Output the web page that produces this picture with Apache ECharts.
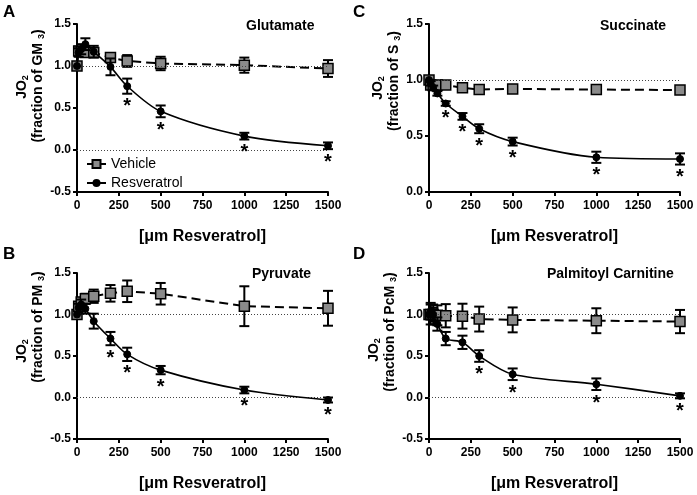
<!DOCTYPE html>
<html><head><meta charset="utf-8">
<script src="https://cdn.jsdelivr.net/npm/echarts@6/dist/echarts.min.js"></script>
<style>html,body{margin:0;padding:0;background:#fff}#c{width:697px;height:495px}</style>
</head><body><div id="c"></div>
<script>
const doses = [0, 10, 25, 50, 100, 200, 300, 500, 1000, 1500];
const xTicks = [0, 250, 500, 750, 1000, 1250, 1500];

const glutVehicle = [1.0, 1.18, 1.17, 1.16, 1.16, 1.10, 1.06, 1.03, 1.01, 0.97];
const glutVehicleErr = [0, 0.05, 0.05, 0.05, 0.05, 0.05, 0.07, 0.08, 0.09, 0.10];
const glutResv = [1.0, 1.16, 1.20, 1.26, 1.17, 0.99, 0.76, 0.46, 0.165, 0.05];
const glutResvErr = [0, 0.05, 0.06, 0.07, 0.07, 0.10, 0.09, 0.07, 0.04, 0.04];
const glutSig = [0, 0, 0, 0, 0, 0, 1, 1, 1, 1];

const succVehicle = [1.0, 0.955, 0.95, 0.955, 0.955, 0.93, 0.915, 0.92, 0.915, 0.91];
const succVehicleErr = [0, 0.02, 0.02, 0.02, 0.02, 0.02, 0.02, 0.03, 0.02, 0.02];
const succResv = [1.0, 0.97, 0.93, 0.88, 0.79, 0.675, 0.565, 0.45, 0.31, 0.295];
const succResvErr = [0, 0.02, 0.02, 0.02, 0.02, 0.03, 0.04, 0.035, 0.05, 0.05];
const succSig = [0, 0, 0, 0, 1, 1, 1, 1, 1, 1];

const pyrVehicle = [1.0, 1.10, 1.15, 1.19, 1.22, 1.255, 1.28, 1.25, 1.10, 1.075];
const pyrVehicleErr = [0, 0.05, 0.05, 0.06, 0.08, 0.10, 0.13, 0.13, 0.24, 0.21];
const pyrResv = [1.0, 1.08, 1.12, 1.07, 0.92, 0.71, 0.52, 0.33, 0.09, -0.03];
const pyrResvErr = [0, 0.05, 0.06, 0.06, 0.09, 0.08, 0.08, 0.05, 0.04, 0.03];
const pyrSig = [0, 0, 0, 0, 0, 1, 1, 1, 1, 1];

const palmVehicle = [1.0, 1.0, 1.0, 0.99, 0.985, 0.98, 0.945, 0.935, 0.925, 0.915];
const palmVehicleErr = [0, 0.12, 0.12, 0.12, 0.14, 0.15, 0.15, 0.15, 0.15, 0.14];
const palmResv = [1.0, 1.04, 1.0, 0.885, 0.71, 0.665, 0.50, 0.28, 0.16, 0.02];
const palmResvErr = [0, 0.10, 0.08, 0.08, 0.08, 0.08, 0.07, 0.07, 0.07, 0.03];
const palmSig = [0, 0, 0, 0, 0, 0, 1, 1, 1, 1];

const panelLetters = ['A', 'C', 'B', 'D'];
const panelNames = ['Glutamate', 'Succinate', 'Pyruvate', 'Palmitoyl Carnitine'];
const panelSubs = ['GM', 'S', 'PM', 'PcM'];
const xTitle = '[\u03bcm Resveratrol]';
const legendNames = ['Vehicle', 'Resveratrol'];

const FONT = '"Liberation Sans", Arial, sans-serif';
const panels = [
  {veh: glutVehicle, vehE: glutVehicleErr, res: glutResv, resE: glutResvErr, sig: glutSig, ymin: -0.5, refs: [1, 0]},
  {veh: succVehicle, vehE: succVehicleErr, res: succResv, resE: succResvErr, sig: succSig, ymin: 0, refs: [1]},
  {veh: pyrVehicle, vehE: pyrVehicleErr, res: pyrResv, resE: pyrResvErr, sig: pyrSig, ymin: -0.5, refs: [1, 0]},
  {veh: palmVehicle, vehE: palmVehicleErr, res: palmResv, resE: palmResvErr, sig: palmSig, ymin: -0.5, refs: [1, 0]}
];
const grids = [
  {left: 77, top: 24, width: 251, height: 168},
  {left: 429, top: 24, width: 251, height: 168},
  {left: 77, top: 273, width: 251, height: 166},
  {left: 429, top: 273, width: 251, height: 166}
];
const letterPos = [[3, 4], [353, 4], [3, 246], [353, 246]];
const namePos = [[246, 19], [600, 19], [252, 267], [547, 267]];
// y-title layout: upward shift of the block, and downward shift of the "JO2" line
const yTitleShift = [22, 27, 29, 24];
const yTitleJoOffset = [1, 7, 24, 18];

function errRender(params, api) {
  const x = api.value(0), y = api.value(1), e = api.value(2), s = api.value(3);
  const children = [];
  const hi = api.coord([x, y + e]);
  const lo = api.coord([x, y - e]);
  const cw = 5;
  const st = {stroke: '#000', lineWidth: 2};
  if (e > 0) {
    children.push({type: 'line', shape: {x1: hi[0], y1: hi[1], x2: lo[0], y2: lo[1]}, style: st});
    children.push({type: 'line', shape: {x1: hi[0] - cw, y1: hi[1], x2: hi[0] + cw, y2: hi[1]}, style: st});
    children.push({type: 'line', shape: {x1: lo[0] - cw, y1: lo[1], x2: lo[0] + cw, y2: lo[1]}, style: st});
  }
  if (s) {
    children.push({type: 'text', x: lo[0], y: lo[1] + 3, style: {text: '*', fill: '#000', font: 'bold 20px ' + FONT, textAlign: 'center', textVerticalAlign: 'top'}});
  }
  return {type: 'group', children: children};
}

const option = {
  animation: false,
  backgroundColor: '#fff',
  textStyle: {fontFamily: FONT},
  title: [],
  grid: grids,
  xAxis: [],
  yAxis: [],
  legend: {
    data: legendNames, orient: 'vertical', left: 81, top: 152, itemWidth: 19, itemHeight: 10, itemGap: 5,
    textStyle: {fontSize: 14, color: '#000', fontFamily: FONT}
  },
  series: []
};

panels.forEach((p, i) => {
  option.title.push({text: panelLetters[i], left: letterPos[i][0], top: letterPos[i][1], padding: 0,
    textStyle: {fontSize: 17, fontWeight: 'bold', color: '#000', fontFamily: FONT}});
  option.title.push({text: panelNames[i], left: namePos[i][0], top: namePos[i][1], padding: 0,
    textStyle: {fontSize: 14, fontWeight: 'bold', color: '#000', fontFamily: FONT}});
  option.xAxis.push({
    gridIndex: i, type: 'value', min: xTicks[0], max: xTicks[xTicks.length - 1], interval: 250,
    name: xTitle, nameLocation: 'middle', nameGap: 37,
    nameTextStyle: {fontSize: 16, fontWeight: 'bold', color: '#000', fontFamily: FONT},
    axisLine: {onZero: false, lineStyle: {color: '#000', width: 2}},
    axisTick: {length: 4, lineStyle: {color: '#000', width: 2}},
    axisLabel: {color: '#000', fontWeight: 'bold', fontSize: 12, margin: 8, fontFamily: FONT,
      formatter: v => String(v)},
    splitLine: {show: false}
  });
  option.yAxis.push({
    gridIndex: i, type: 'value', min: p.ymin, max: 1.5, interval: 0.5,
    name: '{a|JO}{s|2}{g| }\n{a|(fraction of ' + panelSubs[i] + ' }{s|3}{a|)}',
    nameLocation: 'middle', nameGap: 27, nameRotate: 90,
    nameTextStyle: {color: '#000', fontFamily: FONT, lineHeight: 16, align: 'center',
      padding: [0, 0, 0, 2 * yTitleShift[i]],
      rich: {a: {fontSize: 14, fontWeight: 'bold', color: '#000', lineHeight: 16, fontFamily: FONT},
             s: {fontSize: 9, fontWeight: 'bold', color: '#000', lineHeight: 8, verticalAlign: 'bottom', fontFamily: FONT},
             g: {fontSize: 14, lineHeight: 16, width: 2 * yTitleJoOffset[i]}}},
    axisLine: {show: true, onZero: false, lineStyle: {color: '#000', width: 2}},
    axisTick: {show: true, length: 4, lineStyle: {color: '#000', width: 2}},
    axisLabel: {color: '#000', fontWeight: 'bold', fontSize: 12, margin: 6, fontFamily: FONT,
      formatter: v => v.toFixed(1)},
    splitLine: {show: false}
  });
  const vehData = doses.map((d, k) => [d, p.veh[k]]);
  const resData = doses.map((d, k) => [d, p.res[k]]);
  option.series.push({
    name: legendNames[0], type: 'line', xAxisIndex: i, yAxisIndex: i, data: vehData,
    symbol: 'rect', symbolSize: 10, z: 4,
    itemStyle: {color: '#8a8a8a', borderColor: '#000', borderWidth: 1.5},
    lineStyle: {color: '#000', width: 2, type: [9, 5]},
    markLine: {silent: true, symbol: 'none', label: {show: false},
      lineStyle: {color: '#444', width: 1, type: [1, 2]},
      data: p.refs.map(r => ({yAxis: r}))}
  });
  option.series.push({
    name: legendNames[1], type: 'line', xAxisIndex: i, yAxisIndex: i, data: resData,
    symbol: 'circle', symbolSize: 7, smooth: 0.3, z: 5,
    itemStyle: {color: '#000', borderColor: '#000'},
    lineStyle: {color: '#000', width: 1.6}
  });
  option.series.push({
    type: 'custom', xAxisIndex: i, yAxisIndex: i, z: 3, renderItem: errRender,
    encode: {x: 0, y: 1},
    data: doses.map((d, k) => [d, p.veh[k], p.vehE[k], 0])
  });
  option.series.push({
    type: 'custom', xAxisIndex: i, yAxisIndex: i, z: 6, renderItem: errRender,
    encode: {x: 0, y: 1},
    data: doses.map((d, k) => [d, p.res[k], p.resE[k], p.sig[k]])
  });
});

const chart = echarts.init(document.getElementById('c'), null, {renderer: 'canvas'});
chart.setOption(option);
</script>
</body></html>
